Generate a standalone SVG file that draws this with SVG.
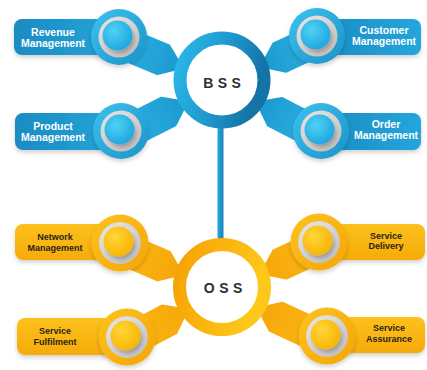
<svg xmlns="http://www.w3.org/2000/svg" width="427" height="370" viewBox="0 0 427 370">
  <style>
    .lbl-b { font-family: "Liberation Sans", Arial, sans-serif; font-weight: 700; font-size: 10.5px; fill: #ffffff; text-anchor: middle; }
    .lbl-o { font-family: "Liberation Sans", Arial, sans-serif; font-weight: 700; font-size: 9px; fill: #2a2418; text-anchor: middle; }
    .hub-txt { font-family: "Liberation Sans", Arial, sans-serif; font-weight: 700; font-size: 14px; fill: #2e2e2e; text-anchor: middle; letter-spacing: 4.5px; }
    .tab-b { fill: url(#tabB); stroke: url(#tabB); stroke-width: 3; stroke-linejoin: round; }
    .tab-o { fill: url(#tabO); stroke: url(#tabO); stroke-width: 3; stroke-linejoin: round; }
    .pill-b { fill: url(#pillB); filter: url(#soft); }
    .pill-o { fill: url(#pillO); filter: url(#soft); }
    .ring-b { fill: url(#outerB); filter: url(#soft); }
    .ring-o { fill: url(#outerO); filter: url(#soft); }
    .disk { fill: url(#disk); }
    .ball-b { fill: url(#ballB); filter: url(#ballShadow); }
    .ball-o { fill: url(#ballO); filter: url(#ballShadow); }
  </style>
  <defs>
    <filter id="soft" x="-30%" y="-30%" width="160%" height="170%">
      <feDropShadow dx="0" dy="2.5" stdDeviation="2" flood-color="#000" flood-opacity="0.18"/>
    </filter>
    <filter id="ballShadow" x="-40%" y="-40%" width="190%" height="190%">
      <feDropShadow dx="2" dy="3" stdDeviation="2" flood-color="#000" flood-opacity="0.3"/>
    </filter>
    <linearGradient id="tabB" x1="0" y1="0" x2="1" y2="0">
      <stop offset="0" stop-color="#2cb3e4"/>
      <stop offset="1" stop-color="#1c98cf"/>
    </linearGradient>
    <linearGradient id="tabO" x1="0" y1="0" x2="1" y2="0">
      <stop offset="0" stop-color="#fbb913"/>
      <stop offset="1" stop-color="#f6a509"/>
    </linearGradient>
    <linearGradient id="pillB" x1="0" y1="0" x2="1" y2="0">
      <stop offset="0" stop-color="#1b8bc2"/>
      <stop offset="1" stop-color="#24a6dc"/>
    </linearGradient>
    <linearGradient id="pillO" x1="0" y1="0" x2="0" y2="1">
      <stop offset="0" stop-color="#fcc11c"/>
      <stop offset="1" stop-color="#f6ab0a"/>
    </linearGradient>
    <linearGradient id="outerB" x1="0" y1="0" x2="1" y2="1">
      <stop offset="0" stop-color="#3cc3ef"/>
      <stop offset="1" stop-color="#1b92c8"/>
    </linearGradient>
    <linearGradient id="outerO" x1="0" y1="0" x2="1" y2="1">
      <stop offset="0" stop-color="#fdc31d"/>
      <stop offset="1" stop-color="#f5a507"/>
    </linearGradient>
    <radialGradient id="disk" cx="0.42" cy="0.4" r="0.62">
      <stop offset="0" stop-color="#f6f4f4"/>
      <stop offset="0.7" stop-color="#dcd8d8"/>
      <stop offset="1" stop-color="#c6c2c2"/>
    </radialGradient>
    <radialGradient id="ballB" cx="0.38" cy="0.35" r="0.7">
      <stop offset="0" stop-color="#4fd2f6"/>
      <stop offset="1" stop-color="#1da5dd"/>
    </radialGradient>
    <radialGradient id="ballO" cx="0.38" cy="0.35" r="0.7">
      <stop offset="0" stop-color="#ffd63a"/>
      <stop offset="1" stop-color="#f8b302"/>
    </radialGradient>
    <linearGradient id="hubB" x1="0" y1="0" x2="1" y2="0.3">
      <stop offset="0" stop-color="#2bb8e9"/>
      <stop offset="0.55" stop-color="#1f98cf"/>
      <stop offset="1" stop-color="#1574a7"/>
    </linearGradient>
    <linearGradient id="hubO" x1="0" y1="0" x2="1" y2="0.3">
      <stop offset="0" stop-color="#f6a103"/>
      <stop offset="1" stop-color="#fec81a"/>
    </linearGradient>
    <linearGradient id="stem" x1="0" y1="0" x2="1" y2="0">
      <stop offset="0" stop-color="#25a6da"/>
      <stop offset="1" stop-color="#1884ba"/>
    </linearGradient>
  </defs>

  <!-- connectors: stem between hubs and the tabs that join each item to its hub -->
  <g id="connectors">
    <rect x="217.5" y="120" width="6" height="125" fill="url(#stem)"/>
    <polygon class="tab-b" transform="translate(119 37) rotate(22.66)" points="0,-11 49.6,-11 69.6,4 49.6,19 0,19"/>
    <polygon class="tab-b" transform="translate(121 131) rotate(-26.8)" points="0,-11 51.1,-11 71.1,4 51.1,19 0,19"/>
    <polygon class="tab-b" transform="translate(317 36) scale(-1 1) rotate(24.8)" points="0,-11 42.7,-11 62.7,4 42.7,19 0,19"/>
    <polygon class="tab-b" transform="translate(321 131) scale(-1 1) rotate(-27.3)" points="0,-11 49.4,-11 69.4,4 49.4,19 0,19"/>
    <polygon class="tab-o" transform="translate(120 243) rotate(23.3)" points="0,-11 49.1,-11 69.1,4 49.1,19 0,19"/>
    <polygon class="tab-o" transform="translate(127 337) rotate(-27.8)" points="0,-11 45.4,-11 65.4,4 45.4,19 0,19"/>
    <polygon class="tab-o" transform="translate(319 242) scale(-1 1) rotate(24.9)" points="0,-11 44.9,-11 64.9,4 44.9,19 0,19"/>
    <polygon class="tab-o" transform="translate(327 336) scale(-1 1) rotate(-25)" points="0,-11 53.9,-11 73.9,4 53.9,19 0,19"/>
  </g>

  <!-- BSS items -->
  <g id="revenue-management">
    <rect class="pill-b" x="14" y="19" width="106" height="36" rx="8"/>
    <circle class="ring-b" cx="119" cy="37" r="28"/>
    <circle class="disk" cx="119" cy="37" r="20.5"/>
    <circle class="ball-b" cx="117.5" cy="35.5" r="15"/>
    <text class="lbl-b" x="53" y="35.5">Revenue</text>
    <text class="lbl-b" x="53" y="46.5">Management</text>
  </g>
  <g id="product-management">
    <rect class="pill-b" x="15" y="113" width="106" height="37" rx="8"/>
    <circle class="ring-b" cx="121" cy="131" r="28"/>
    <circle class="disk" cx="121" cy="131" r="20.5"/>
    <circle class="ball-b" cx="119.5" cy="129.5" r="15"/>
    <text class="lbl-b" x="53" y="130">Product</text>
    <text class="lbl-b" x="53" y="141">Management</text>
  </g>
  <g id="customer-management">
    <rect class="pill-b" x="316" y="19" width="105" height="36" rx="8"/>
    <circle class="ring-b" cx="317" cy="36" r="28"/>
    <circle class="disk" cx="317" cy="36" r="20.5"/>
    <circle class="ball-b" cx="315.5" cy="34.5" r="15"/>
    <text class="lbl-b" x="384" y="34">Customer</text>
    <text class="lbl-b" x="384" y="45">Management</text>
  </g>
  <g id="order-management">
    <rect class="pill-b" x="320" y="113" width="101" height="37" rx="8"/>
    <circle class="ring-b" cx="321" cy="131" r="28"/>
    <circle class="disk" cx="321" cy="131" r="20.5"/>
    <circle class="ball-b" cx="319.5" cy="129.5" r="15"/>
    <text class="lbl-b" x="386" y="128">Order</text>
    <text class="lbl-b" x="386" y="139">Management</text>
  </g>

  <!-- OSS items -->
  <g id="network-management">
    <rect class="pill-o" x="15" y="224" width="106" height="36" rx="8"/>
    <circle class="ring-o" cx="120" cy="243" r="28.5"/>
    <circle class="disk" cx="120" cy="243" r="21"/>
    <circle class="ball-o" cx="118.5" cy="241.5" r="15"/>
    <text class="lbl-o" x="55" y="240">Network</text>
    <text class="lbl-o" x="55" y="251">Management</text>
  </g>
  <g id="service-fulfilment">
    <rect class="pill-o" x="17" y="318" width="110" height="37" rx="8"/>
    <circle class="ring-o" cx="127" cy="337" r="28.5"/>
    <circle class="disk" cx="127" cy="337" r="21"/>
    <circle class="ball-o" cx="125.5" cy="335.5" r="15"/>
    <text class="lbl-o" x="55" y="334">Service</text>
    <text class="lbl-o" x="55" y="345">Fulfilment</text>
  </g>
  <g id="service-delivery">
    <rect class="pill-o" x="318" y="224" width="107" height="36" rx="8"/>
    <circle class="ring-o" cx="319" cy="242" r="28.5"/>
    <circle class="disk" cx="319" cy="242" r="21"/>
    <circle class="ball-o" cx="317.5" cy="240.5" r="15"/>
    <text class="lbl-o" x="386" y="238.5">Service</text>
    <text class="lbl-o" x="386" y="249">Delivery</text>
  </g>
  <g id="service-assurance">
    <rect class="pill-o" x="326" y="317" width="99" height="36" rx="8"/>
    <circle class="ring-o" cx="327" cy="336" r="28.5"/>
    <circle class="disk" cx="327" cy="336" r="21"/>
    <circle class="ball-o" cx="325.5" cy="334.5" r="15"/>
    <text class="lbl-o" x="389" y="331">Service</text>
    <text class="lbl-o" x="389" y="342">Assurance</text>
  </g>

  <!-- hubs -->
  <g id="bss">
    <circle cx="222" cy="80" r="42" fill="#ffffff" stroke="url(#hubB)" stroke-width="13"/>
    <text class="hub-txt" x="224.3" y="88">BSS</text>
  </g>
  <g id="oss">
    <circle cx="222" cy="287" r="42.5" fill="#ffffff" stroke="url(#hubO)" stroke-width="13"/>
    <text class="hub-txt" x="225.3" y="293">OSS</text>
  </g>
</svg>
